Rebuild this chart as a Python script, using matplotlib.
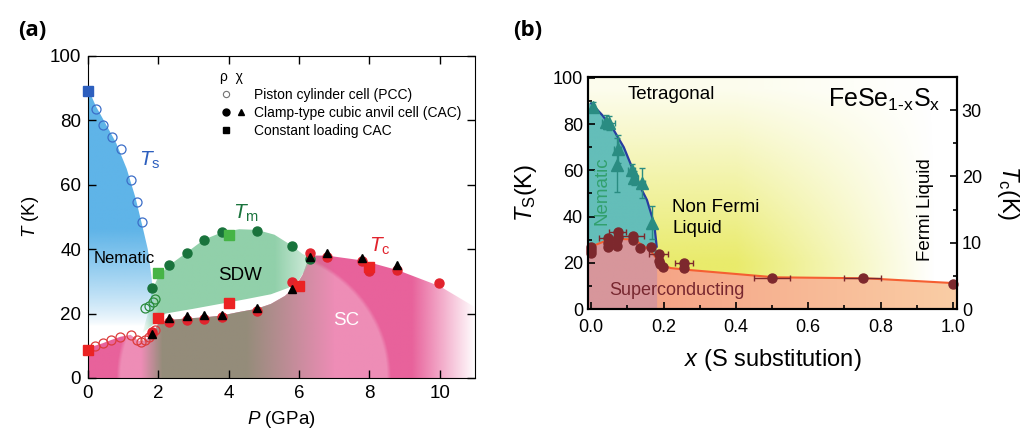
import numpy as np
import matplotlib
matplotlib.use("Agg")
import matplotlib.pyplot as plt
from matplotlib.patches import Polygon
from matplotlib.lines import Line2D
from matplotlib.legend_handler import HandlerTuple
from matplotlib.ticker import MultipleLocator, FormatStrFormatter

plt.rcParams["font.family"] = "Liberation Sans"
plt.rcParams["mathtext.fontset"] = "custom"
plt.rcParams["mathtext.rm"] = "Liberation Sans"
plt.rcParams["mathtext.it"] = "Liberation Sans:italic"

# ---- (a) FeSe under pressure ----
# structural transition Ts
ts_sq_p = [0.0]
ts_sq_t = [89.2]
ts_pcc_p = [0.22, 0.44, 0.69, 0.93, 1.23, 1.39, 1.53]
ts_pcc_t = [83.4, 78.5, 74.7, 71.1, 61.4, 54.7, 48.5]

# magnetic transition Tm
tm_pcc_p = [1.63, 1.74, 1.84, 1.91]
tm_pcc_t = [21.6, 22.4, 23.5, 24.5]
tm_cac_p = [1.81, 2.31, 2.81, 3.30, 3.80, 4.80, 5.81, 6.30]
tm_cac_t = [28.0, 35.0, 38.9, 42.9, 45.2, 45.8, 41.0, 36.9]
tm_sq_p = [2.0, 4.0]
tm_sq_t = [32.5, 44.4]

# superconducting Tc
tc_pcc_p = [0.19, 0.42, 0.66, 0.92, 1.21, 1.40, 1.51, 1.62, 1.73, 1.82, 1.90]
tc_pcc_t = [10.0, 10.8, 11.8, 12.8, 13.4, 11.8, 11.3, 11.8, 12.6, 13.6, 14.8]
tc_cac_p = [1.81, 2.31, 2.81, 3.30, 3.80, 4.80, 5.80, 6.30, 6.79, 7.78, 7.99, 8.79, 9.99]
tc_cac_t = [14.2, 17.5, 18.0, 18.2, 19.0, 20.8, 29.9, 38.7, 37.7, 36.3, 33.3, 33.5, 29.4]
tc_chi_p = [1.81, 2.31, 2.81, 3.30, 3.80, 4.80, 5.80, 6.30, 6.79, 7.78, 8.79]
tc_chi_t = [13.8, 18.5, 19.3, 19.5, 19.5, 21.6, 27.5, 37.7, 38.7, 37.4, 35.0]
tc_sq_p = [0.0, 2.0, 4.0, 6.0, 7.99]
tc_sq_t = [8.7, 18.5, 23.2, 28.7, 34.6]

# phase boundaries used for the shaded regions
nem_p = [0, 0.22, 0.5, 0.8, 1.1, 1.35, 1.55, 1.7, 1.8, 1.87, 1.9, 1.6, 0]
nem_t = [90, 84.5, 79, 73, 65, 56, 47, 40, 32, 24, 16, 11.5, 9]
sdw_p = [1.55, 1.7, 1.81, 2.0, 2.31, 2.81, 3.3, 3.8, 4.3, 4.8, 5.3, 5.81, 6.1, 6.35,
         6.2, 6.0, 5.7, 5.2, 4.5, 4.0, 3.0, 2.2, 1.9]
sdw_t = [14, 20, 27, 31.5, 35, 39, 43, 45.2, 46.2, 46, 44.5, 41, 38.5, 37.3,
         34, 30.5, 28, 26, 24.5, 23.5, 21.5, 20, 17]
sc_p = [0, 0.19, 0.42, 0.66, 0.92, 1.21, 1.4, 1.51, 1.62, 1.73, 1.82, 1.9, 2.0, 2.3,
        2.8, 3.3, 3.8, 4.3, 4.8, 5.2, 5.6, 5.9, 6.1, 6.3, 6.8, 7.8, 8.8, 10.0, 11.0, 11.0, 0]
sc_t = [8.7, 10.0, 10.8, 11.8, 12.8, 13.4, 11.8, 11.3, 11.8, 12.6, 13.6, 14.8, 17, 18,
        18.5, 18.8, 19.4, 20.5, 21.5, 23, 25.5, 28.5, 32, 38, 38, 36.5, 33.5, 28.5, 22, 0, 0]

# ---- (b) FeSe1-xSx ----
ts_x = [0.004, 0.040, 0.050, 0.073, 0.070, 0.112, 0.119, 0.140, 0.169]
ts_k = [87.6, 81.0, 80.5, 69.1, 62.3, 60.2, 56.6, 54.4, 37.4]
ts_yerr = [2, 3, 3, 6, 11.5, 2.5, 3, 6.5, 7]
ts_xerr = [0.006, 0.01, 0.015, 0.01, 0, 0.01, 0.01, 0.01, 0]

tc_x = [0.0, 0.0, 0.0, 0.046, 0.046, 0.046, 0.073, 0.073, 0.071, 0.072, 0.116, 0.116,
        0.135, 0.165, 0.186, 0.186, 0.19, 0.198, 0.257, 0.257, 0.50, 0.75, 1.0]
tc_k = [9.4, 8.9, 8.5, 10.7, 10.0, 9.4, 11.7, 10.95, 10.45, 9.6, 11.06, 10.45,
        9.2, 9.45, 8.4, 7.2, 6.8, 6.4, 6.9, 6.2, 4.75, 4.75, 3.8]
tc_xerr = [0, 0, 0, 0.025, 0, 0, 0.023, 0, 0, 0, 0.03, 0,
           0, 0, 0.025, 0, 0, 0, 0.025, 0, 0.05, 0.05, 0]

ts_line_x = [0, 0.03, 0.062, 0.09, 0.112, 0.135, 0.154, 0.168, 0.175, 0.181]
ts_line_k = [89, 84, 77.5, 70, 61.6, 53, 47.2, 40, 35.6, 27]
tc_line_x = [-0.01, 0.0, 0.034, 0.08, 0.117, 0.163, 0.195, 0.22, 0.273, 0.508, 0.76, 1.01]
tc_line_k = [9.3, 9.45, 10.2, 10.6, 10.55, 8.9, 6.65, 6.2, 5.9, 4.8, 4.65, 3.9]

TC_SCALE = 100 / 35  # right axis (Tc) to left axis (Ts)


def shade(ax, verts, rgb, alpha, extent, z):
    """Draw a gradient image clipped to a polygon."""
    h, w = alpha.shape
    img = np.zeros((h, w, 4))
    img[..., :3] = np.broadcast_to(np.asarray(rgb, float) / 255, (h, w, 3))
    img[..., 3] = np.clip(alpha, 0, 1)
    im = ax.imshow(img, extent=extent, origin="lower", aspect="auto",
                   interpolation="bilinear", zorder=z)
    im.set_clip_path(Polygon(verts, closed=True, transform=ax.transData))


fig = plt.figure(figsize=(10.29, 4.29), dpi=100)
axA = fig.add_axes([0.0855, 0.1189, 0.3761, 0.7506])
axB = fig.add_axes([0.5714, 0.2797, 0.3586, 0.5408])

# ---------- panel (a) ----------
P, T = np.meshgrid(np.linspace(0, 11, 440), np.linspace(0, 100, 400))
ext = [0, 11, 0, 100]
sc_poly = np.column_stack([sc_p, sc_t])
shade(axA, sc_poly, (232, 98, 155), np.clip((11.0 - P) / 1.8, 0, 1), ext, 1)
r = np.sqrt(((P - 4.7) / 3.9) ** 2 + (T / 40.6) ** 2)
shade(axA, sc_poly, (255, 255, 255), 0.28 * np.clip((1 - r) / 0.03, 0, 1), ext, 1.1)
shade(axA, sc_poly, (148, 140, 122),
      np.clip((P - 1.5) / 0.6, 0, 1) * np.clip((7.0 - P) / 2.5, 0, 1), ext, 1.2)
shade(axA, np.column_stack([sdw_p, sdw_t]), (145, 208, 170),
      np.clip((P - 1.5) / 0.5, 0, 1) * (0.3 + 0.7 * np.clip((6.5 - P) / 1.2, 0, 1)), ext, 1.3)
shade(axA, np.column_stack([nem_p, nem_t]), (95, 180, 232),
      np.clip((T - 16) / 30, 0, 1) ** 0.8, ext, 1.4)

blue = "#2d5fbe"
green_d = "#19733c"
green_l = "#46b446"
red = "#e1232d"
ms = 6.5
axA.plot(ts_pcc_p, ts_pcc_t, "o", mfc="none", mec="#3c6ec8", ms=ms, mew=0.9, zorder=3)
axA.plot(ts_sq_p, ts_sq_t, "s", color=blue, ms=ms, zorder=3, clip_on=False)
axA.plot(tm_pcc_p, tm_pcc_t, "o", mfc="none", mec="#2a8c3c", ms=ms, mew=0.9, zorder=3)
axA.plot(tc_pcc_p, tc_pcc_t, "o", mfc="none", mec="#dc3c3c", ms=ms, mew=0.9, zorder=3)
axA.plot(tm_cac_p, tm_cac_t, "o", color=green_d, ms=ms, zorder=3)
axA.plot(tc_cac_p, tc_cac_t, "o", color=red, ms=ms, zorder=4)
axA.plot(tc_chi_p, tc_chi_t, "^", color="k", ms=ms - 0.5, zorder=5)
axA.plot(tm_sq_p, tm_sq_t, "s", color=green_l, ms=ms, zorder=4)
axA.plot(tc_sq_p, tc_sq_t, "s", color="#eb2323", ms=ms, zorder=4, clip_on=False)

axA.text(1.77, 67.5, r"$T_\mathrm{s}$", color=blue, fontsize=15, ha="center", va="center")
axA.text(4.5, 51, r"$T_\mathrm{m}$", color=green_d, fontsize=15, ha="center", va="center")
axA.text(8.3, 41, r"$T_\mathrm{c}$", color=red, fontsize=15, ha="center", va="center")
axA.text(0.15, 37, "Nematic", fontsize=12, ha="left", va="center")
axA.text(4.33, 31.7, "SDW", fontsize=13.5, ha="center", va="center")
axA.text(7.33, 18, "SC", fontsize=13.5, color="white", ha="center", va="center")

h_blank = Line2D([], [], ls="none", marker="")
h_open = Line2D([], [], ls="none", marker="o", mfc="none", mec="0.45", ms=4.5, mew=0.8)
h_circ = Line2D([], [], ls="none", marker="o", color="k", ms=5)
h_tri = Line2D([], [], ls="none", marker="^", color="k", ms=4.5)
h_sq = Line2D([], [], ls="none", marker="s", color="k", ms=4.5)
leg = axA.legend([(h_open, h_blank), (h_circ, h_tri), (h_sq, h_blank)],
                 ["Piston cylinder cell (PCC)", "Clamp-type cubic anvil cell (CAC)",
                  "Constant loading CAC"],
                 handler_map={tuple: HandlerTuple(ndivide=None, pad=0.3)},
                 title="\u03c1  \u03c7", alignment="left", title_fontsize=10,
                 loc="upper left", bbox_to_anchor=(0.342, 0.958), frameon=False,
                 fontsize=10, handlelength=1.9, handletextpad=0.5,
                 labelspacing=0.3, borderaxespad=0, borderpad=0)

axA.set_xlim(0, 11)
axA.set_ylim(0, 100)
axA.xaxis.set_major_locator(MultipleLocator(2))
axA.yaxis.set_major_locator(MultipleLocator(20))
axA.tick_params(direction="in", length=6, width=1, top=True, right=True, labelsize=13.5, pad=5)
axA.set_xlabel(r"$P$ (GPa)", fontsize=13.5, labelpad=5)
axA.set_ylabel(r"$T$ (K)", fontsize=13.5, labelpad=6)

# ---------- panel (b) ----------
X, Y = np.meshgrid(np.linspace(-0.01, 1.01, 420), np.linspace(0, 100.4, 300))
extB = [-0.01, 1.01, 0, 100.4]
full = [(-0.01, 0), (1.01, 0), (1.01, 100.4), (-0.01, 100.4)]
ax_fade = np.clip((0.95 - X) / 0.55, 0, 1)
ay_fade = 0.12 + 0.88 * np.clip((95 - Y) / 75, 0, 1)
shade(axB, full, (228, 230, 70), 0.8 * ax_fade * ay_fade, extB, 1)

nem_poly = [(-0.01, 0), (-0.01, 89)] + list(zip(ts_line_x, ts_line_k)) + [(0.181, 0)]
shade(axB, nem_poly, (100, 190, 185), np.ones_like(X), extB, 1.2)

tc_line_t = np.array(tc_line_k) * TC_SCALE
sc_poly_b = [(-0.01, 0)] + list(zip(tc_line_x, tc_line_t)) + [(1.01, 0)]
frac = np.clip((X - 0.2) / 0.8, 0, 1)
sc_rgb = np.stack([245 + 5 * frac, 165 + 40 * frac, 135 + 30 * frac], axis=-1)
sc_rgb[X < 0.181] = (215, 150, 155)
shade(axB, sc_poly_b, sc_rgb, np.ones_like(X), extB, 1.4)

axB.plot(ts_line_x, ts_line_k, color="#283ca0", lw=1.6, zorder=2)
axB.plot(tc_line_x, tc_line_t, color="#f55f32", lw=1.5, zorder=2)

teal = "#2a8c82"
brown = "#7d282d"
axB.errorbar(ts_x, ts_k, yerr=ts_yerr, xerr=ts_xerr, fmt="^", color=teal, ms=9,
             elinewidth=1, capsize=2, zorder=3)
tcx = np.array(tc_x)
tcy = np.array(tc_k) * TC_SCALE
tce = np.array(tc_xerr)
has_err = tce > 0
axB.errorbar(tcx[has_err], tcy[has_err], xerr=tce[has_err], fmt="none", ecolor=brown,
             elinewidth=1, capsize=2.5, zorder=3)
axB.plot(tcx, tcy, "o", color=brown, ms=6.5, zorder=4, clip_on=False)

axB.text(0.10, 93, "Tetragonal", fontsize=13.5, ha="left", va="center")
axB.text(0.655, 87.6, "FeSe$_{\\mathrm{1\u2010x}}$S$_{\\mathrm{x}}$", fontsize=18,
         ha="left", va="baseline")
axB.text(0.03, 51, "Nematic", fontsize=13.5, rotation=90, color="#32a06e", ha="center", va="center")
axB.text(0.224, 39.5, "Non Fermi\nLiquid", fontsize=13.5, ha="left", va="center", linespacing=1.3)
axB.text(0.925, 43, "Fermi Liquid", fontsize=13.5, rotation=90, ha="center", va="center")
axB.text(0.05, 8.2, "Superconducting", fontsize=13, color="#782830", ha="left", va="center")

axB.set_xlim(-0.009, 1.011)
axB.set_ylim(0, 100.4)
axB.xaxis.set_major_locator(MultipleLocator(0.2))
axB.xaxis.set_minor_locator(MultipleLocator(0.1))
axB.yaxis.set_major_locator(MultipleLocator(20))
axB.yaxis.set_minor_locator(MultipleLocator(10))
axB.xaxis.set_major_formatter(FormatStrFormatter("%.1f"))
axB.tick_params(which="both", direction="in", labelsize=13, width=1.2)
axB.tick_params(which="major", length=5)
axB.tick_params(which="minor", length=3)
axB.tick_params(axis="x", pad=7)
for s in axB.spines.values():
    s.set_linewidth(1.5)
axB.set_xlabel(r"$x$ (S substitution)", fontsize=17, labelpad=8)
axB.set_ylabel(r"$T_\mathrm{S}$(K)", fontsize=17, labelpad=10)

ax2 = axB.twinx()
ax2.set_ylim(0, 35)
ax2.yaxis.set_major_locator(MultipleLocator(10))
ax2.yaxis.set_minor_locator(MultipleLocator(5))
ax2.tick_params(which="both", direction="in", labelsize=13, width=1.2)
ax2.tick_params(which="major", length=5)
ax2.tick_params(which="minor", length=3)
ax2.set_ylabel(r"$T_\mathrm{c}$(K)", fontsize=17, rotation=270, labelpad=28)
for s in ax2.spines.values():
    s.set_linewidth(1.5)

fig.text(0.0175, 0.93, "(a)", fontsize=16, fontweight="bold", family="Open Sans", va="center")
fig.text(0.4985, 0.93, "(b)", fontsize=16, fontweight="bold", family="Open Sans", va="center")

fig.savefig("out.png", dpi=100)
